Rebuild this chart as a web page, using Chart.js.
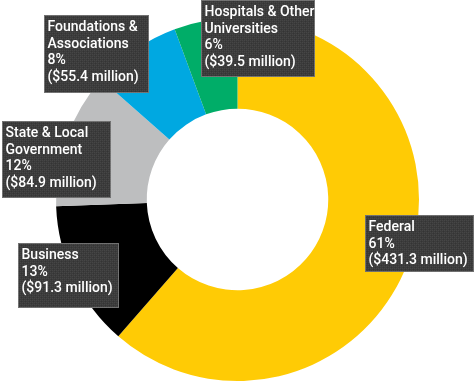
<!DOCTYPE html>
<html>
<head>
<meta charset="utf-8">
<script src="https://cdn.jsdelivr.net/npm/chart.js@4/dist/chart.umd.min.js"></script>
<style>
html,body{margin:0;padding:0;background:#fff;}
#wrap{width:475px;height:383px;position:relative;}
</style>
</head>
<body>
<div id="wrap"><canvas id="c" width="475" height="383"></canvas></div>
<script>
// ---- data ----
const categories = [
  ['Federal'],
  ['Business'],
  ['State & Local', 'Government'],
  ['Foundations &', 'Associations'],
  ['Hospitals & Other', 'Universities']
];
const percents = [61, 13, 12, 8, 6];
const amounts = [431.3, 91.3, 84.9, 55.4, 39.5];

// ---- styles ----
const colors = ['#FFCB05', '#000000', '#BDBEBF', '#00A8E1', '#00AD68'];
// label box: offset of box top-left from the slice's outer mid point, and box size
const labelBoxes = [
  {dx: -42.5, dy: -48, w: 109, h: 57},
  {dx: -55.7, dy: -34.6, w: 101, h: 65},
  {dx: -64.5, dy: -17.8, w: 109, h: 77},
  {dx: -90.6, dy: -35.2, w: 105, h: 78},
  {dx: -4.2, dy: -21.3, w: 114, h: 77}
];

function makePattern(ctx) {
  const p = document.createElement('canvas');
  p.width = 4; p.height = 4;
  const g = p.getContext('2d');
  g.fillStyle = '#3b3b3b';
  g.fillRect(0, 0, 4, 4);
  g.fillStyle = '#464646';
  g.fillRect(0, 0, 1, 1); g.fillRect(2, 2, 1, 1);
  g.fillRect(2, 0, 1, 1); g.fillRect(0, 2, 1, 1);
  g.fillStyle = '#343434';
  g.fillRect(1, 1, 1, 1); g.fillRect(3, 3, 1, 1);
  return ctx.createPattern(p, 'repeat');
}

const labelPlugin = {
  id: 'boxLabels',
  afterDatasetsDraw(chart) {
    const ctx = chart.ctx;
    const meta = chart.getDatasetMeta(0);
    const pat = makePattern(ctx);
    ctx.save();
    meta.data.forEach((arc, i) => {
      const mid = (arc.startAngle + arc.endAngle) / 2;
      const ax = arc.x + Math.cos(mid) * arc.outerRadius;
      const ay = arc.y + Math.sin(mid) * arc.outerRadius;
      const b = labelBoxes[i];
      const x = Math.round(ax + b.dx), y = Math.round(ay + b.dy);
      ctx.fillStyle = pat;
      ctx.fillRect(x, y, b.w, b.h);
      ctx.strokeStyle = 'rgba(150,150,150,0.6)';
      ctx.lineWidth = 1;
      ctx.strokeRect(x + 0.5, y + 0.5, b.w - 1, b.h - 1);
      const lines = categories[i].concat([percents[i] + '%', '($' + amounts[i].toFixed(1) + ' million)']);
      ctx.fillStyle = '#ffffff';
      ctx.font = '500 14px Roboto';
      ctx.textBaseline = 'alphabetic';
      ctx.textAlign = 'left';
      lines.forEach((t, k) => {
        ctx.fillText(t, x + 3.5, y + 16 + k * 16.7);
      });
    });
    ctx.restore();
  }
};

new Chart(document.getElementById('c'), {
  type: 'doughnut',
  data: {
    labels: categories.map(c => c.join(' ')),
    datasets: [{
      data: amounts,
      backgroundColor: colors,
      borderWidth: 0,
      hoverOffset: 0
    }]
  },
  options: {
    responsive: false,
    animation: false,
    cutout: '50%',
    layout: {padding: {top: 18, bottom: 2, left: 0, right: 0}},
    plugins: {
      legend: {display: false},
      tooltip: {enabled: false}
    }
  },
  plugins: [labelPlugin]
});
</script>
</body>
</html>
